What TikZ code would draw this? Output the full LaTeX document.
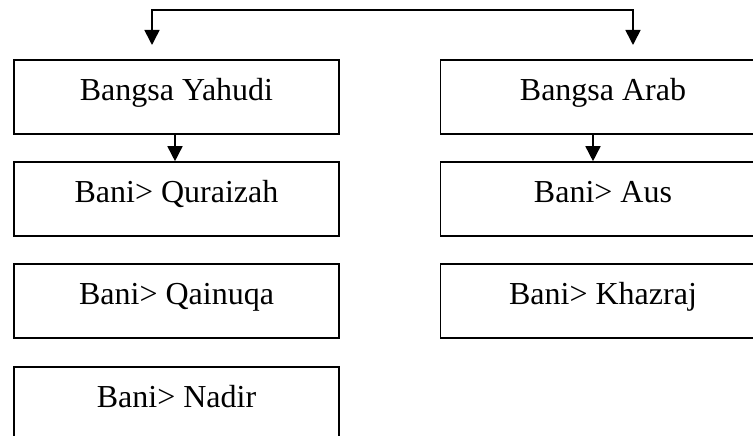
\documentclass[tikz,border=0pt]{standalone}
\usepackage{fontspec}
\setmainfont{Liberation Serif}
\usetikzlibrary{arrows.meta}

\begin{document}
\begin{tikzpicture}[x=1pt,y=-1pt,
        kotak/.style={draw,line width=1.6pt,minimum width=325pt,inner xsep=0pt,inner ysep=0pt,
            text height=40pt,text depth=34pt,font=\fontsize{32}{38}\selectfont},
        panah/.style={line width=1.6pt,-{Triangle[length=15pt,width=15pt]}}]
        \useasboundingbox (0,0) rectangle (753,436);
        \node[kotak] (yahudi)   at (176.5,97)  {Bangsa Yahudi};
        \node[kotak] (quraizah) at (176.5,199) {Bani> Quraizah};
        \node[kotak] (qainuqa)  at (176.5,301) {Bani> Qainuqa};
        \node[kotak] (nadir)    at (176.5,404) {Bani> Nadir};
        \node[kotak] (arab)     at (603,97)    {Bangsa Arab};
        \node[kotak] (aus)      at (603,199)   {Bani> Aus};
        \node[kotak] (khazraj)  at (603,301)   {Bani> Khazraj};
        \coordinate (atasL) at (152,10);
        \coordinate (atasR) at (633,10);
        \coordinate (ujungL) at (152,45);
        \coordinate (ujungR) at (633,45);
        \draw[panah] (atasR) -- (atasL) -- (ujungL);
        \draw[panah] (atasL) -- (atasR) -- (ujungR);
        \draw[panah] ([xshift=-1.5pt]yahudi.south) -- ([xshift=-1.5pt]quraizah.north);
        \draw[panah] ([xshift=-10pt]arab.south) -- ([xshift=-10pt]aus.north);
    \end{tikzpicture}
\end{document}
